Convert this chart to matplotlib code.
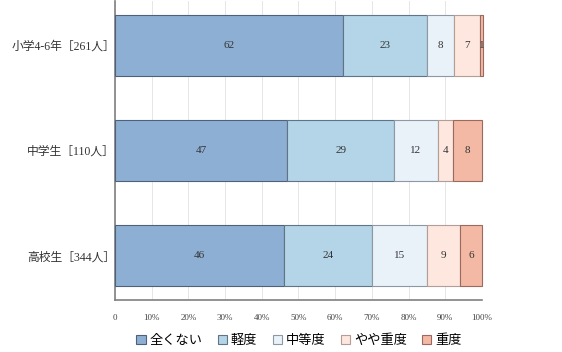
import numpy as np
import matplotlib.pyplot as plt
from matplotlib.patches import Patch

plt.rcParams['font.family'] = ['Liberation Serif', 'Noto Sans CJK JP', 'DejaVu Sans']

groups = ['小学4-6年［261人］', '中学生［110人］', '高校生［344人］']
categories = ['全くない', '軽度', '中等度', 'やや重度', '重度']
# rounded labels shown in the bars
labels = np.array([
    [62, 23, 8, 7, 1],
    [47, 29, 12, 4, 8],
    [46, 24, 15, 9, 6],
])
# bar lengths (%)
values = np.array([
    [62.1, 22.9, 7.4, 7.1, 0.8],
    [47.0, 29.0, 12.0, 4.0, 8.0],
    [46.0, 24.0, 15.0, 9.0, 6.0],
])
colors = ['#8eafd4', '#b4d5e7', '#e9f1f9', '#fde7de', '#f3b9a5']
edges = ['#4f6178', '#5f7486', '#8e98a4', '#b49d95', '#9a6a5e']
ticks = np.arange(0, 101, 10)
tick_labels = ['0'] + ['{}%'.format(t) for t in ticks[1:]]

fig = plt.figure(figsize=(5.62, 3.52), dpi=100)
ax = fig.add_axes([0.2046, 0.1477, 0.653, 0.85])

y = np.arange(len(groups))
left = np.zeros(len(groups))
for ci, cat in enumerate(categories):
    vals = values[:, ci]
    ax.barh(y, vals, left=left, height=0.58, color=colors[ci],
            edgecolor=edges[ci], linewidth=0.8, clip_on=False, zorder=3)
    for yi, (l, v) in enumerate(zip(left, vals)):
        ax.text(l + v / 2, yi, str(labels[yi, ci]), ha='center', va='center',
                fontsize=8, color='#333333', zorder=4)
    left = left + vals

ax.set_xlim(0, 100)
ax.set_ylim(2.42, -0.42)
ax.set_xticks(ticks)
ax.set_xticklabels(tick_labels, fontsize=6.5, color='#444444')
ax.set_yticks(y)
ax.set_yticklabels(groups, fontsize=8.5, color='#333333')
ax.tick_params(axis='x', length=0, pad=10)
ax.tick_params(axis='y', length=0, pad=0)
ax.grid(axis='x', color='#e6e6e6', linewidth=0.7, zorder=0)
for s in ['top', 'right']:
    ax.spines[s].set_visible(False)
for s in ['left', 'bottom']:
    ax.spines[s].set_color('#808080')
    ax.spines[s].set_linewidth(1.2)

handles = [Patch(facecolor=c, edgecolor=e, label=l, linewidth=0.8)
           for c, e, l in zip(colors, edges, categories)]
fig.legend(handles=handles, loc='center', bbox_to_anchor=(0.532, 0.032),
           ncol=5, frameon=False, fontsize=9.5, handlelength=0.7,
           handleheight=0.7, handletextpad=0.3, columnspacing=1.15)

fig.savefig('out.png', dpi=100)
